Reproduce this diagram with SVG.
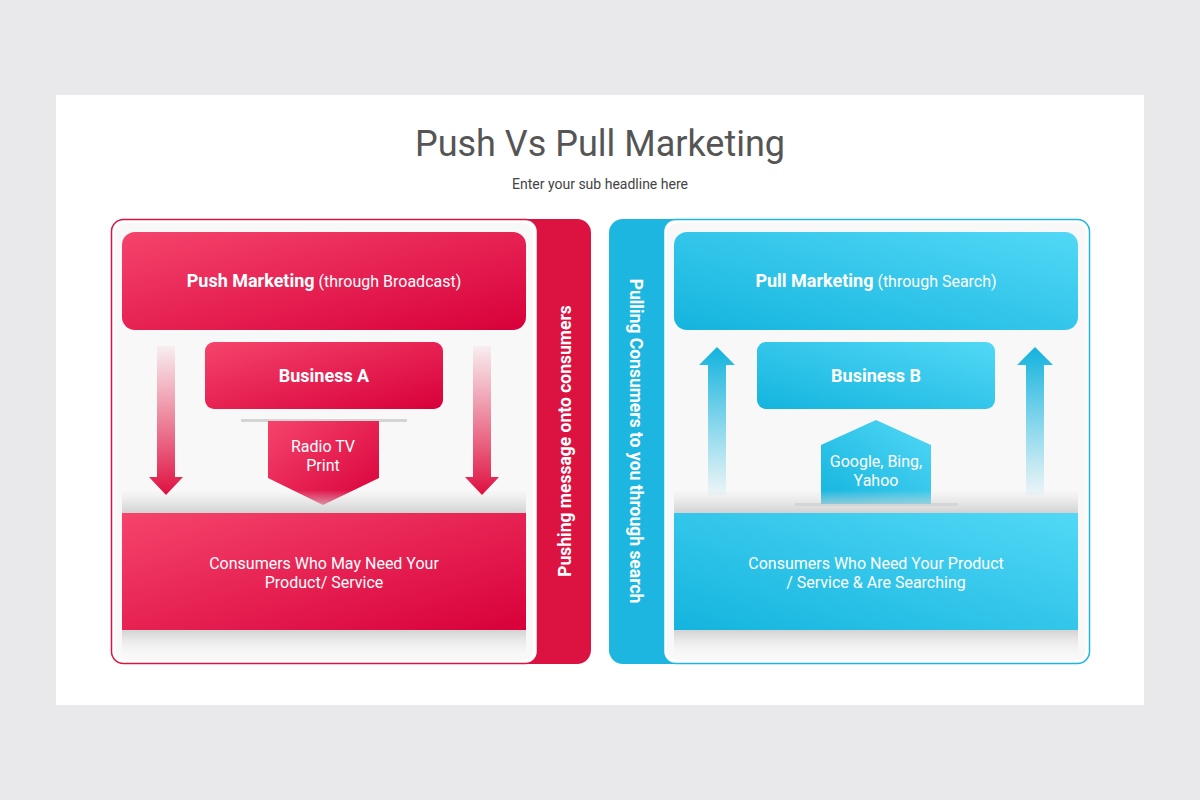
<svg xmlns="http://www.w3.org/2000/svg" width="1200" height="800" viewBox="0 0 1200 800">
<defs>
<linearGradient id="rg" x1="0" y1="0" x2="1" y2="1"><stop offset="0" stop-color="#f5446c"/><stop offset="1" stop-color="#d8003a"/></linearGradient>
<linearGradient id="bg" x1="0" y1="1" x2="1" y2="0"><stop offset="0" stop-color="#14b4de"/><stop offset="1" stop-color="#52d8f6"/></linearGradient>
<linearGradient id="rarr" x1="0" y1="0" x2="0" y2="1"><stop offset="0" stop-color="#e8264f" stop-opacity="0.05"/><stop offset="1" stop-color="#de0f3f"/></linearGradient>
<linearGradient id="barr" x1="0" y1="1" x2="0" y2="0"><stop offset="0" stop-color="#1bb8e2" stop-opacity="0.05"/><stop offset="1" stop-color="#12b2dd"/></linearGradient>
<linearGradient id="shadeTop" x1="0" y1="0" x2="0" y2="1"><stop offset="0" stop-color="#ddd" stop-opacity="0"/><stop offset="1" stop-color="#d2d2d2"/></linearGradient>
<linearGradient id="shadeBot" x1="0" y1="0" x2="0" y2="1"><stop offset="0" stop-color="#d2d2d2"/><stop offset="1" stop-color="#eee" stop-opacity="0"/></linearGradient>
</defs>
<style>
.t{font-family:Roboto,"Liberation Sans",sans-serif;fill:#fff;text-anchor:middle}
.b{font-weight:bold}
</style>
<rect width="1200" height="800" fill="#e9e8ea"/>
<rect x="56" y="95" width="1088" height="610" fill="#fff"/>
<text x="600" y="156" font-family="Roboto,'Liberation Sans',sans-serif" font-size="36" fill="#555" text-anchor="middle">Push Vs Pull Marketing</text>
<text x="600" y="189" font-family="Roboto,'Liberation Sans',sans-serif" font-size="14" fill="#444" text-anchor="middle">Enter your sub headline here</text>

<g id="push-panel">
<rect x="111" y="219" width="480" height="445" rx="14" fill="#dc1240"/>
<rect x="111.5" y="219.5" width="426" height="444" rx="12" fill="#fff" stroke="#dc1240" stroke-width="1.5"/>
<rect x="115" y="223" width="418" height="437" rx="10" fill="#f8f8f8"/>
<text class="t b" transform="translate(571 441) rotate(-90)" font-size="17.5">Pushing message onto consumers</text>
</g>
<g id="push-marketing"><rect x="122" y="232" width="404" height="98" rx="13" fill="url(#rg)"/>
<text class="t" x="324" y="287" font-size="18"><tspan class="b">Push Marketing</tspan><tspan font-size="16"> (through Broadcast)</tspan></text></g>
<g id="business-a"><rect x="205" y="342" width="238" height="67" rx="9" fill="url(#rg)"/>
<text class="t b" x="324" y="382" font-size="18">Business A</text></g>
<g id="radio"><rect x="241" y="419" width="166" height="3" fill="#d4d4d4"/>
<polygon points="268,421 379,421 379,478 323,505 268,478" fill="url(#rg)"/>
<text class="t" x="323" y="452" font-size="16">Radio TV</text><text class="t" x="323" y="471" font-size="16">Print</text></g>
<g id="consumers-a">
<rect x="122" y="490" width="404" height="23" fill="url(#shadeTop)"/>
<rect x="122" y="630" width="404" height="25" fill="url(#shadeBot)"/>
<rect x="122" y="513" width="404" height="117" fill="url(#rg)"/>
<text class="t" x="324" y="569" font-size="16">Consumers Who May Need Your</text>
<text class="t" x="324" y="588" font-size="16">Product/ Service</text></g>

<g id="pull-panel">
<rect x="609" y="219" width="481" height="445" rx="14" fill="#1cb6e0"/>
<rect x="663.5" y="219.5" width="426" height="444" rx="12" fill="#fff" stroke="#1cb6e0" stroke-width="1.5"/>
<rect x="667" y="223" width="419" height="437" rx="10" fill="#f8f8f8"/>
<text class="t b" transform="translate(630 441) rotate(90)" font-size="17.5">Pulling Consumers to you through search</text>
</g>
<g id="pull-marketing"><rect x="674" y="232" width="404" height="98" rx="13" fill="url(#bg)"/>
<text class="t" x="876" y="287" font-size="18"><tspan class="b">Pull Marketing</tspan><tspan font-size="16"> (through Search)</tspan></text></g>
<g id="business-b"><rect x="757" y="342" width="238" height="67" rx="9" fill="url(#bg)"/>
<text class="t b" x="876" y="382" font-size="18">Business B</text></g>
<g id="search"><rect x="795" y="503" width="163" height="3" fill="#d4d4d4"/>
<polygon points="821,504 821,445 876,420 931,445 931,504" fill="url(#bg)"/>
<text class="t" x="876" y="467" font-size="16">Google, Bing,</text><text class="t" x="876" y="486" font-size="16">Yahoo</text></g>
<g id="consumers-b">
<rect x="674" y="490" width="404" height="23" fill="url(#shadeTop)"/>
<rect x="674" y="630" width="404" height="25" fill="url(#shadeBot)"/>
<rect x="674" y="513" width="404" height="117" fill="url(#bg)"/>
<text class="t" x="876" y="569" font-size="16">Consumers Who Need Your Product</text>
<text class="t" x="876" y="588" font-size="16">/ Service &amp; Are Searching</text></g>

<g id="connectors">
<polygon points="157,346 175,346 175,477 183,477 166,495 149,477 157,477" fill="url(#rarr)"/>
<polygon points="473,346 491,346 491,477 499,477 482,495 465,477 473,477" fill="url(#rarr)"/>
<polygon points="708,495 726,495 726,365 735,365 717,347 699,365 708,365" fill="url(#barr)"/>
<polygon points="1026,495 1044,495 1044,365 1053,365 1035,347 1017,365 1026,365" fill="url(#barr)"/>
</g>
</svg>
